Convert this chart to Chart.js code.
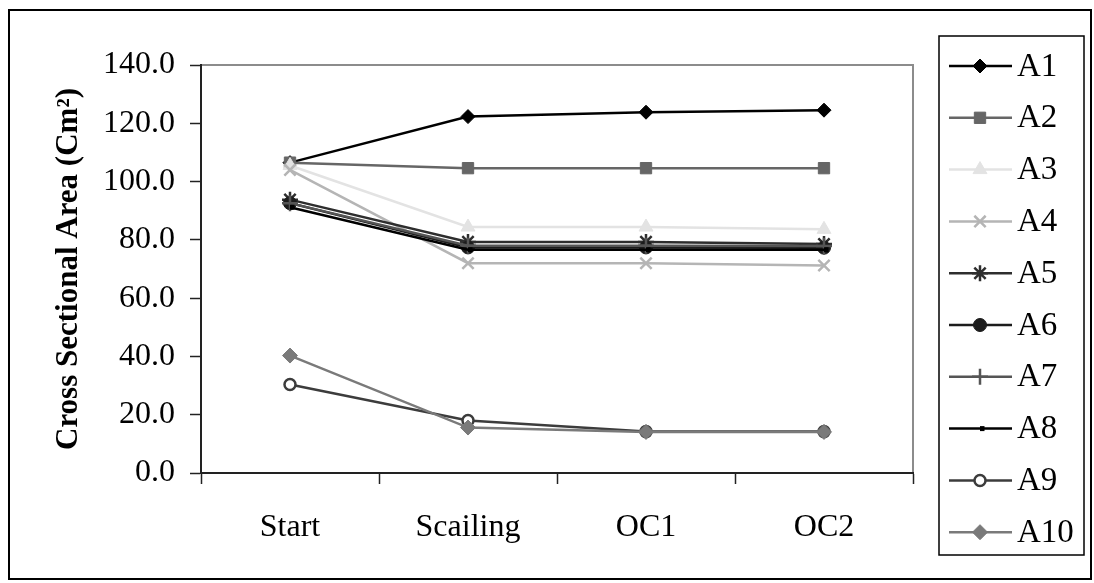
<!DOCTYPE html>
<html>
<head>
<meta charset="utf-8">
<script src="https://cdn.jsdelivr.net/npm/chart.js@4/dist/chart.umd.min.js"></script>
<style>
  html, body { margin: 0; padding: 0; background: #ffffff; }
  #wrap { position: relative; width: 1094px; height: 583px; }
</style>
</head>
<body>
<div id="wrap"><canvas id="c"></canvas></div>
<script>
// Categories along the x axis
const stages = ['Start', 'Scailing', 'OC1', 'OC2'];

// Cross sectional area per specimen (cm²)
const A1  = [106.5, 122.3, 123.8, 124.5];
const A2  = [106.5, 104.6, 104.6, 104.6];
const A3  = [105.5, 84.4, 84.4, 83.6];
const A4  = [104.0, 72.0, 72.0, 71.2];
const A5  = [93.8, 79.3, 79.3, 78.6];
const A6  = [92.6, 77.4, 77.4, 77.3];
const A7  = [92.6, 78.0, 78.0, 77.9];
const A8  = [91.2, 76.6, 76.6, 76.6];
const A9  = [30.4, 18.0, 14.2, 14.2];
const A10 = [40.3, 15.6, 14.1, 14.1];

// Y tick values
const yTicks = [0, 20, 40, 60, 80, 100, 120, 140];

const seriesNames = ['A1', 'A2', 'A3', 'A4', 'A5', 'A6', 'A7', 'A8', 'A9', 'A10'];
const seriesData = [A1, A2, A3, A4, A5, A6, A7, A8, A9, A10];

// Line / marker styling per series
const styles = [
  { color: '#000000', fill: '#000000', point: 'rectRot',  r: 7,   bw: 1 },
  { color: '#666666', fill: '#666666', point: 'rect',     r: 8,   bw: 1 },
  { color: '#e3e3e3', fill: '#e3e3e3', point: 'triangle', r: 8,   bw: 1 },
  { color: '#b5b5b5', fill: '#b5b5b5', point: 'crossRot', r: 8,   bw: 2.5 },
  { color: '#2e2e2e', fill: '#2e2e2e', point: 'star',     r: 8,   bw: 2.5 },
  { color: '#1c1c1c', fill: '#1c1c1c', point: 'circle',   r: 6.5, bw: 1 },
  { color: '#555555', fill: '#555555', point: 'cross',    r: 8,   bw: 2.5 },
  { color: '#000000', fill: '#000000', point: 'dash',     r: 4.5, bw: 5 },
  { color: '#3c3c3c', fill: '#ffffff', point: 'circle',   r: 5.5, bw: 2.5 },
  { color: '#7a7a7a', fill: '#7a7a7a', point: 'rectRot',  r: 7.5, bw: 1 }
];

const FONT = '"Liberation Serif", "Times New Roman", serif';

const datasets = seriesNames.map((name, i) => ({
  label: name,
  data: seriesData[i],
  borderColor: styles[i].color,
  backgroundColor: styles[i].fill,
  borderWidth: 2.5,
  pointStyle: styles[i].point,
  pointRadius: styles[i].r,
  pointHoverRadius: styles[i].r,
  pointBorderColor: styles[i].color,
  pointBackgroundColor: styles[i].fill,
  pointBorderWidth: styles[i].bw,
  tension: 0,
  order: seriesNames.length - i
}));

// White page with the outer black frame, plus grey top/right plot border
const framePlugin = {
  id: 'frame',
  beforeDraw(chart) {
    const ctx = chart.ctx;
    ctx.save();
    ctx.fillStyle = '#ffffff';
    ctx.fillRect(0, 0, chart.width, chart.height);
    ctx.strokeStyle = '#000000';
    ctx.lineWidth = 2;
    ctx.strokeRect(9, 10, 1082, 569);
    const a = chart.chartArea;
    ctx.strokeStyle = '#8c8c8c';
    ctx.lineWidth = 2;
    ctx.beginPath();
    ctx.moveTo(a.left, a.top);
    ctx.lineTo(a.right, a.top);
    ctx.lineTo(a.right, a.bottom);
    ctx.stroke();
    ctx.restore();
  }
};

// Boxed legend on the right: line sample with marker, then the series name
const boxLegendPlugin = {
  id: 'boxLegend',
  afterDraw(chart) {
    const ctx = chart.ctx;
    const box = { x: 939, y: 36, w: 145, h: 519 };
    ctx.save();
    ctx.strokeStyle = '#000000';
    ctx.lineWidth = 1.5;
    ctx.strokeRect(box.x, box.y, box.w, box.h);
    const rowStart = 66, rowGap = 51.8;
    chart.data.datasets.forEach((ds, i) => {
      const y = rowStart + i * rowGap;
      ctx.strokeStyle = ds.borderColor;
      ctx.lineWidth = ds.borderWidth;
      ctx.beginPath();
      ctx.moveTo(949, y);
      ctx.lineTo(1012, y);
      ctx.stroke();
      ctx.fillStyle = ds.pointBackgroundColor;
      ctx.strokeStyle = ds.pointBorderColor;
      ctx.lineWidth = ds.pointBorderWidth;
      Chart.helpers.drawPoint(ctx, {
        pointStyle: ds.pointStyle,
        radius: ds.pointRadius,
        borderWidth: ds.pointBorderWidth,
        rotation: 0
      }, 980, y);
      ctx.fillStyle = '#000000';
      ctx.font = '33px ' + FONT;
      ctx.textBaseline = 'middle';
      ctx.textAlign = 'left';
      ctx.fillText(ds.label, 1017, y + 1);
    });
    ctx.restore();
  }
};

new Chart(document.getElementById('c'), {
  type: 'line',
  data: { labels: stages, datasets },
  options: {
    responsive: true,
    maintainAspectRatio: false,
    animation: false,
    layout: { padding: { left: 0, right: 181, top: 65, bottom: 0 } },
    plugins: {
      legend: { display: false },
      tooltip: { enabled: false }
    },
    scales: {
      x: {
        type: 'category',
        offset: true,
        afterFit(scale) { scale.height = 110; },
        grid: {
          offset: true,
          drawOnChartArea: false,
          drawTicks: true,
          tickLength: 11,
          tickWidth: 1.5,
          tickColor: '#222222'
        },
        border: { display: true, color: '#222222', width: 2 },
        ticks: {
          color: '#000000',
          font: { family: FONT, size: 32 },
          padding: 24
        }
      },
      y: {
        min: 0,
        max: 140,
        afterBuildTicks(scale) { scale.ticks = yTicks.map(v => ({ value: v })); },
        afterFit(scale) { scale.width = 201; },
        grid: {
          drawOnChartArea: false,
          drawTicks: true,
          tickLength: 11,
          tickWidth: 1.5,
          tickColor: '#222222'
        },
        border: { display: true, color: '#222222', width: 2 },
        ticks: {
          color: '#000000',
          font: { family: FONT, size: 32 },
          padding: 15,
          callback: v => Number(v).toFixed(1)
        },
        title: {
          display: true,
          text: 'Cross Sectional Area (Cm²)',
          color: '#000000',
          font: { family: FONT, size: 31, weight: 'bold' },
          padding: { top: 50, bottom: 0 }
        }
      }
    }
  },
  plugins: [framePlugin, boxLegendPlugin]
});
</script>
</body>
</html>
